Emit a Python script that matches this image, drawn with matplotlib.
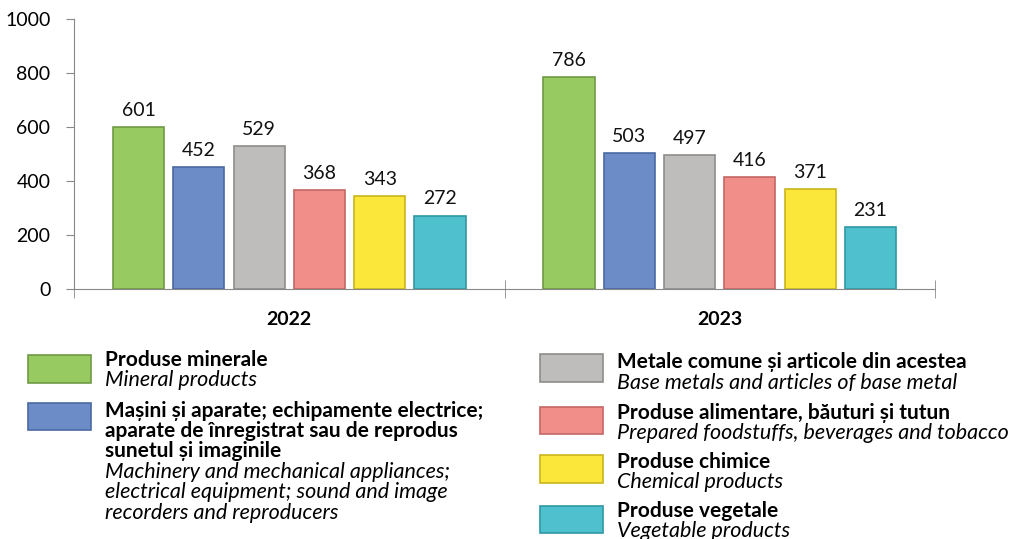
import numpy as np
import matplotlib
matplotlib.use("Agg")
import matplotlib.pyplot as plt
from matplotlib.patches import Rectangle

plt.rcParams['font.family'] = ['Lato', 'DejaVu Sans']

years = ["2022", "2023"]
products_ro = [["Produse minerale"],
               ["Mașini și aparate; echipamente electrice;",
                "aparate de înregistrat sau de reprodus",
                "sunetul și imaginile"],
               ["Metale comune și articole din acestea"],
               ["Produse alimentare, băuturi și tutun"],
               ["Produse chimice"],
               ["Produse vegetale"]]
products_en = [["Mineral products"],
               ["Machinery and mechanical appliances;",
                "electrical equipment; sound and image",
                "recorders and reproducers"],
               ["Base metals and articles of base metal"],
               ["Prepared foodstuffs, beverages and tobacco"],
               ["Chemical products"],
               ["Vegetable products"]]
values_2022 = [601, 452, 529, 368, 343, 272]
values_2023 = [786, 503, 497, 416, 371, 231]
colors = ["#97cb62", "#6b8cc7", "#bebdbb", "#f28e8a", "#fbe63a", "#4fc1ce"]
edges = ["#6f9a45", "#4a6aa3", "#8e8d8b", "#c46763", "#c9b51d", "#2f98a5"]

W, H = 1033, 539
fig = plt.figure(figsize=(W / 100, H / 100), dpi=100)

def fx(px):
    return px / W

def fy(py):
    return 1 - py / H

ax = fig.add_axes([fx(74), fy(289), fx(935) - fx(74), fy(19) - fy(289)])

vals = np.array([values_2022, values_2023])
x = np.arange(len(years))
step = 0.140
width = 0.119
for k in range(len(colors)):
    pos = x + (k - 2.5) * step
    bars = ax.bar(pos, vals[:, k], width, color=colors[k], edgecolor=edges[k], linewidth=1.2)
    for b, v in zip(bars, vals[:, k]):
        ax.text(b.get_x() + b.get_width() / 2, v + 30, str(v), ha='center', va='bottom',
                fontsize=14, color='#111111')

ax.set_xlim(-0.5, 1.5)
ax.set_ylim(0, 1000)
ax.set_yticks(range(0, 1001, 200))
ax.tick_params(axis='y', direction='out', length=6, color='#888888', labelsize=14, pad=11)
ax.set_xticks(x)
ax.set_xticklabels(years, fontweight='bold', fontsize=14)
ax.tick_params(axis='x', length=0, pad=16)
ax.set_xticks([-0.5, 0.5, 1.5], minor=True)
ax.tick_params(axis='x', which='minor', direction='inout', length=13, color='#888888')
for s in ['top', 'right']:
    ax.spines[s].set_visible(False)
for s in ['left', 'bottom']:
    ax.spines[s].set_color('#888888')

# legend, built by hand in two columns (patch box in pixels, line centres in pixels)
def legend_item(k, px, py0, py1, tx, lines_y):
    fig.patches.append(Rectangle((fx(px), fy(py1)), fx(63), (py1 - py0) / H, transform=fig.transFigure,
                                 facecolor=colors[k], edgecolor=edges[k], linewidth=1.2))
    texts = [(t, 'bold', 'normal', 15) for t in products_ro[k]] + \
            [(t, 'normal', 'italic', 15.5) for t in products_en[k]]
    for (t, wt, st, fs), yy in zip(texts, lines_y):
        fig.text(fx(tx), fy(yy), t, fontsize=fs, fontweight=wt, style=st, va='center')

legend_item(0, 28, 355, 383, 105, [360, 380])
legend_item(1, 28, 403, 430, 105, [411, 431, 451, 472, 492, 513])
legend_item(2, 540, 354, 382, 617, [362, 383])
legend_item(3, 540, 407, 434, 617, [413, 433])
legend_item(4, 540, 455, 483, 617, [462, 482])
legend_item(5, 540, 506, 533, 617, [511, 531])

fig.savefig("out.png", dpi=100)
